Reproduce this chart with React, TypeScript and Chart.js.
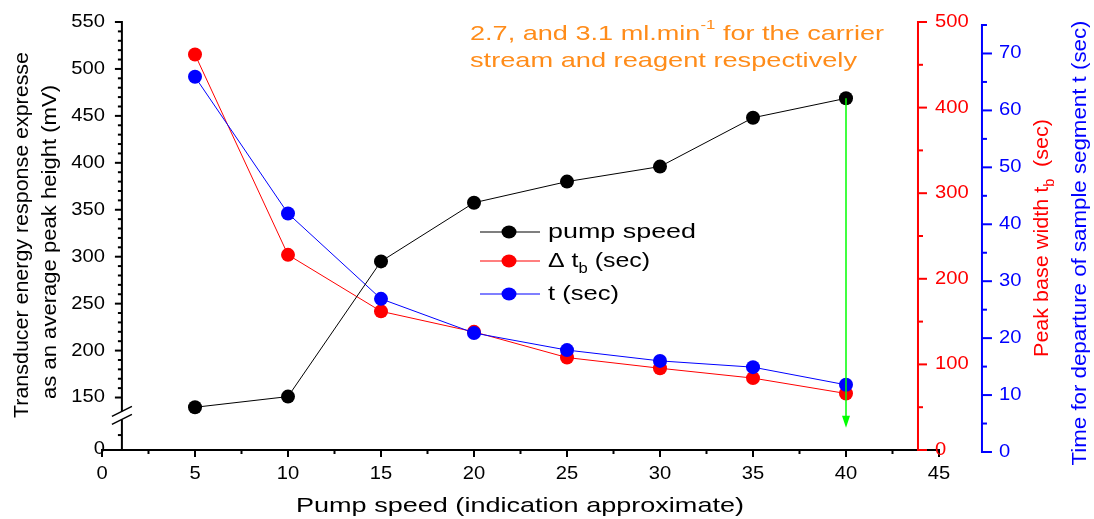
import React, { useEffect, useRef } from "react";
import { Chart, registerables } from "chart.js";

Chart.register(...registerables);

// ---------- data ----------
const pumpSpeeds = [5, 10, 15, 20, 25, 30, 35, 40];
const peakHeight = [139.6, 151, 295, 357.5, 380, 396, 448, 468.7]; // mV (left axis)
const deltaTb = [462, 228, 162, 138, 108, 95.5, 84, 66]; // sec (red axis)
const departureT = [65.9, 41.9, 26.9, 20.9, 17.9, 16.0, 14.9, 11.8]; // sec (blue axis)

const xTicks = [0, 5, 10, 15, 20, 25, 30, 35, 40, 45];
const leftTicks = [150, 200, 250, 300, 350, 400, 450, 500, 550];
const redTicks = [0, 100, 200, 300, 400, 500];
const blueTicks = [0, 10, 20, 30, 40, 50, 60, 70];
const arrowX = 40;
const arrowEndRed = 26;

// ---------- layout / style ----------
const W = 1094;
const H = 519;
const FONT = '"Liberation Sans", Arial, sans-serif';
const SX = 1.12;
const LEFT_AXIS_AT = 1.07; // x value where the left axis sits
const RED_AXIS_AT = 43.87;
const BLUE_AXIS_AT = 47.31;
const LEFT_MIN = 94.1;
const BLUE_MIN = 0.35;
const BLUE_MAX = 75.53;

type Seg = { t: string; size?: number; dy?: number };
type TOpt = { size: number; color: string; align?: "left" | "center" | "right"; rot?: number; fit?: number; sx?: number };

function rich(ctx: CanvasRenderingContext2D, segs: Seg[], x: number, y: number, o: TOpt) {
  ctx.save();
  ctx.translate(x, y);
  if (o.rot) ctx.rotate(o.rot);
  let total = 0;
  const ws = segs.map((s) => {
    ctx.font = `${s.size ?? o.size}px ${FONT}`;
    const w = ctx.measureText(s.t).width;
    total += w;
    return w;
  });
  const k = o.fit ? o.fit / total : o.sx ?? SX;
  ctx.scale(k, 1);
  let cx = o.align === "center" ? -total / 2 : o.align === "right" ? -total : 0;
  ctx.fillStyle = o.color;
  ctx.textBaseline = "middle";
  ctx.textAlign = "left";
  segs.forEach((s, i) => {
    ctx.font = `${s.size ?? o.size}px ${FONT}`;
    ctx.fillText(s.t, cx, s.dy ?? 0);
    cx += ws[i];
  });
  ctx.restore();
}

const decorPlugin = {
  id: "decor",
  afterDraw(chart: any) {
    const ctx: CanvasRenderingContext2D = chart.ctx;
    const sx = chart.scales.x;
    const yL = chart.scales.yL;
    const yR = chart.scales.yR;
    const yB = chart.scales.yB;
    const px = (v: number) => sx.getPixelForValue(v);
    ctx.save();
    ctx.lineCap = "butt";

    // ---- green arrow ----
    const ax = px(arrowX);
    const ay0 = yL.getPixelForValue(peakHeight[pumpSpeeds.indexOf(arrowX)]);
    const ay1 = yR.getPixelForValue(arrowEndRed);
    ctx.strokeStyle = "#00ff00";
    ctx.fillStyle = "#00ff00";
    ctx.lineWidth = 1.5;
    ctx.beginPath();
    ctx.moveTo(ax, ay0);
    ctx.lineTo(ax, ay1 - 8);
    ctx.stroke();
    ctx.beginPath();
    ctx.moveTo(ax, ay1);
    ctx.lineTo(ax - 4, ay1 - 12);
    ctx.lineTo(ax + 4, ay1 - 12);
    ctx.closePath();
    ctx.fill();

    const bottom = yL.getPixelForValue(LEFT_MIN);

    // ---- x axis ----
    ctx.strokeStyle = "#000";
    ctx.lineWidth = 2;
    ctx.beginPath();
    ctx.moveTo(px(0) - 1, bottom);
    ctx.lineTo(px(45) + 1, bottom);
    ctx.stroke();
    xTicks.forEach((v) => {
      const p = px(v);
      ctx.beginPath();
      ctx.moveTo(p, bottom);
      ctx.lineTo(p, bottom + 7);
      ctx.stroke();
      rich(ctx, [{ t: String(v) }], p, bottom + 24, { size: 18, color: "#000", align: "center" });
    });
    for (let i = 0; i < xTicks.length - 1; i++) {
      const p = px((xTicks[i] + xTicks[i + 1]) / 2);
      ctx.beginPath();
      ctx.moveTo(p, bottom);
      ctx.lineTo(p, bottom + 4);
      ctx.stroke();
    }
    rich(ctx, [{ t: "Pump speed (indication approximate)" }], px(0) + (px(45) - px(0)) * 0.5 - 0.5, 506, {
      size: 21, color: "#000", align: "center", fit: 448,
    });

    // ---- left axis (broken) ----
    const lx = px(LEFT_AXIS_AT);
    const top = yL.getPixelForValue(leftTicks[leftTicks.length - 1]);
    ctx.strokeStyle = "#000";
    ctx.beginPath();
    ctx.moveTo(lx, top - 1);
    ctx.lineTo(lx, bottom);
    ctx.stroke();
    leftTicks.forEach((v) => {
      const p = yL.getPixelForValue(v);
      ctx.beginPath();
      ctx.moveTo(lx, p);
      ctx.lineTo(lx - 7, p);
      ctx.stroke();
      rich(ctx, [{ t: String(v) }], lx - 17, p, { size: 18, color: "#000", align: "right" });
    });
    for (let v = 160; v < 550; v += 10) {
      if (v % 50 === 0) continue;
      const p = yL.getPixelForValue(v);
      ctx.beginPath();
      ctx.moveTo(lx, p);
      ctx.lineTo(lx - 4, p);
      ctx.stroke();
    }
    // lower segment: minor tick and "0"
    {
      const p = yL.getPixelForValue(110);
      ctx.beginPath();
      ctx.moveTo(lx, p);
      ctx.lineTo(lx - 4, p);
      ctx.stroke();
      ctx.beginPath();
      ctx.moveTo(lx, bottom);
      ctx.lineTo(lx - 7, bottom);
      ctx.stroke();
      rich(ctx, [{ t: "0" }], lx - 17, bottom - 1, { size: 18, color: "#000", align: "right" });
    }
    // break marks
    const by = yL.getPixelForValue(131);
    ctx.fillStyle = "#fff";
    ctx.fillRect(lx - 3, by - 4, 6, 8);
    ctx.lineWidth = 1.5;
    ctx.beginPath();
    ctx.moveTo(lx - 10, by - 4 + 5);
    ctx.lineTo(lx + 10, by - 4 - 5);
    ctx.moveTo(lx - 10, by + 4 + 5);
    ctx.lineTo(lx + 10, by + 4 - 5);
    ctx.stroke();
    ctx.lineWidth = 2;

    rich(ctx, [{ t: "Transducer energy response expresse" }], 22, 235, {
      size: 21, color: "#000", align: "center", rot: -Math.PI / 2, fit: 366,
    });
    rich(ctx, [{ t: "as an average peak height (mV)" }], 50, 242, {
      size: 21, color: "#000", align: "center", rot: -Math.PI / 2, fit: 314,
    });

    // ---- red axis ----
    const rx = px(RED_AXIS_AT);
    ctx.strokeStyle = "#ff0000";
    ctx.beginPath();
    ctx.moveTo(rx, yR.getPixelForValue(500) - 1);
    ctx.lineTo(rx, yR.getPixelForValue(0) + 1);
    ctx.stroke();
    redTicks.forEach((v) => {
      const p = yR.getPixelForValue(v);
      ctx.beginPath();
      ctx.moveTo(rx, p);
      ctx.lineTo(rx + 9, p);
      ctx.stroke();
      rich(ctx, [{ t: String(v) }], rx + 17, p, { size: 18, color: "#ff0000", align: "left" });
    });
    for (let v = 50; v < 500; v += 100) {
      const p = yR.getPixelForValue(v);
      ctx.beginPath();
      ctx.moveTo(rx, p);
      ctx.lineTo(rx + 5, p);
      ctx.stroke();
    }
    rich(ctx, [{ t: "Peak base width t" }, { t: "b", size: 14, dy: 8 }, { t: "  (sec)" }], 1042, 238, {
      size: 21, color: "#ff0000", align: "center", rot: -Math.PI / 2, fit: 238,
    });

    // ---- blue axis ----
    const bx = px(BLUE_AXIS_AT);
    ctx.strokeStyle = "#0000ff";
    ctx.beginPath();
    ctx.moveTo(bx, yB.getPixelForValue(75) - 1);
    ctx.lineTo(bx, yB.getPixelForValue(0) + 1);
    ctx.stroke();
    blueTicks.forEach((v) => {
      const p = yB.getPixelForValue(v);
      ctx.beginPath();
      ctx.moveTo(bx, p);
      ctx.lineTo(bx + 10, p);
      ctx.stroke();
      rich(ctx, [{ t: String(v) }], bx + 17, p, { size: 18, color: "#0000ff", align: "left" });
    });
    for (let v = 5; v <= 75; v += 10) {
      const p = yB.getPixelForValue(v);
      ctx.beginPath();
      ctx.moveTo(bx, p);
      ctx.lineTo(bx + 5, p);
      ctx.stroke();
    }
    rich(ctx, [{ t: "Time for departure of sample segment t (sec)" }], 1080, 243, {
      size: 21, color: "#0000ff", align: "center", rot: -Math.PI / 2, fit: 445,
    });

    // ---- legend ----
    const items = [
      { segs: [{ t: "pump speed" }], c: "#000000", lc: "rgba(0,0,0,0.5)", fit: 148 },
      { segs: [{ t: "Δ t" }, { t: "b", size: 14, dy: 8 }, { t: " (sec)" }], c: "#ff0000", lc: "rgba(255,0,0,0.5)", fit: 102 },
      { segs: [{ t: "t (sec)" }], c: "#0000ff", lc: "rgba(0,0,255,0.5)", fit: 71 },
    ];
    const rows = [232, 261, 294];
    items.forEach((it, i) => {
      const y = rows[i];
      ctx.strokeStyle = it.lc;
      ctx.lineWidth = 2;
      ctx.beginPath();
      ctx.moveTo(480, y);
      ctx.lineTo(540, y);
      ctx.stroke();
      ctx.fillStyle = it.c;
      ctx.beginPath();
      ctx.ellipse(509, y, 7.5, 6.5, 0, 0, Math.PI * 2);
      ctx.fill();
      rich(ctx, it.segs, 548, y, { size: 21, color: "#000", align: "left", fit: it.fit });
    });

    // ---- annotation ----
    rich(ctx, [{ t: "2.7, and 3.1 ml.min" }, { t: "-1", size: 13, dy: -9 }, { t: " for the carrier" }], 470, 34, {
      size: 21, color: "#ff8c1a", align: "left", fit: 414,
    });
    rich(ctx, [{ t: "stream and reagent respectively" }], 470, 61, {
      size: 21, color: "#ff8c1a", align: "left", fit: 387,
    });
    ctx.restore();
  },
};

export default function App() {
  const ref = useRef<HTMLCanvasElement | null>(null);
  useEffect(() => {
    if (!ref.current) return;
    const mk = (ys: number[]) => pumpSpeeds.map((x, i) => ({ x, y: ys[i] }));
    const chart = new Chart(ref.current, {
      type: "line",
      data: {
        datasets: [
          {
            label: "pump speed",
            data: mk(peakHeight),
            yAxisID: "yL",
            borderColor: "#000000",
            backgroundColor: "#000000",
            borderWidth: 1,
            pointRadius: 7,
            pointBorderWidth: 0,
            order: 0,
          },
          {
            label: "Δ tb (sec)",
            data: mk(deltaTb),
            yAxisID: "yR",
            borderColor: "#ff0000",
            backgroundColor: "#ff0000",
            borderWidth: 1,
            pointRadius: 7,
            pointBorderWidth: 0,
            order: 2,
          },
          {
            label: "t (sec)",
            data: mk(departureT),
            yAxisID: "yB",
            borderColor: "#0000ff",
            backgroundColor: "#0000ff",
            borderWidth: 1,
            pointRadius: 7,
            pointBorderWidth: 0,
            order: 1,
          },
        ],
      },
      options: {
        responsive: false,
        animation: false,
        devicePixelRatio: 1,
        layout: { padding: { left: 102, right: W - 939, top: 22, bottom: H - 450 } },
        plugins: { legend: { display: false }, tooltip: { enabled: false } },
        elements: { line: { tension: 0 } },
        scales: {
          x: { type: "linear", min: 0, max: 45, display: false },
          yL: { type: "linear", min: LEFT_MIN, max: 550, display: false },
          yR: { type: "linear", min: 0, max: 500, display: false },
          yB: { type: "linear", min: BLUE_MIN, max: BLUE_MAX, display: false },
        },
      },
      plugins: [decorPlugin],
    });
    return () => chart.destroy();
  }, []);
  return (
    <div style={{ position: "absolute", left: 0, top: 0, width: W, height: H, background: "#fff" }}>
      <canvas ref={ref} width={W} height={H} style={{ display: "block", width: W, height: H }} />
    </div>
  );
}
